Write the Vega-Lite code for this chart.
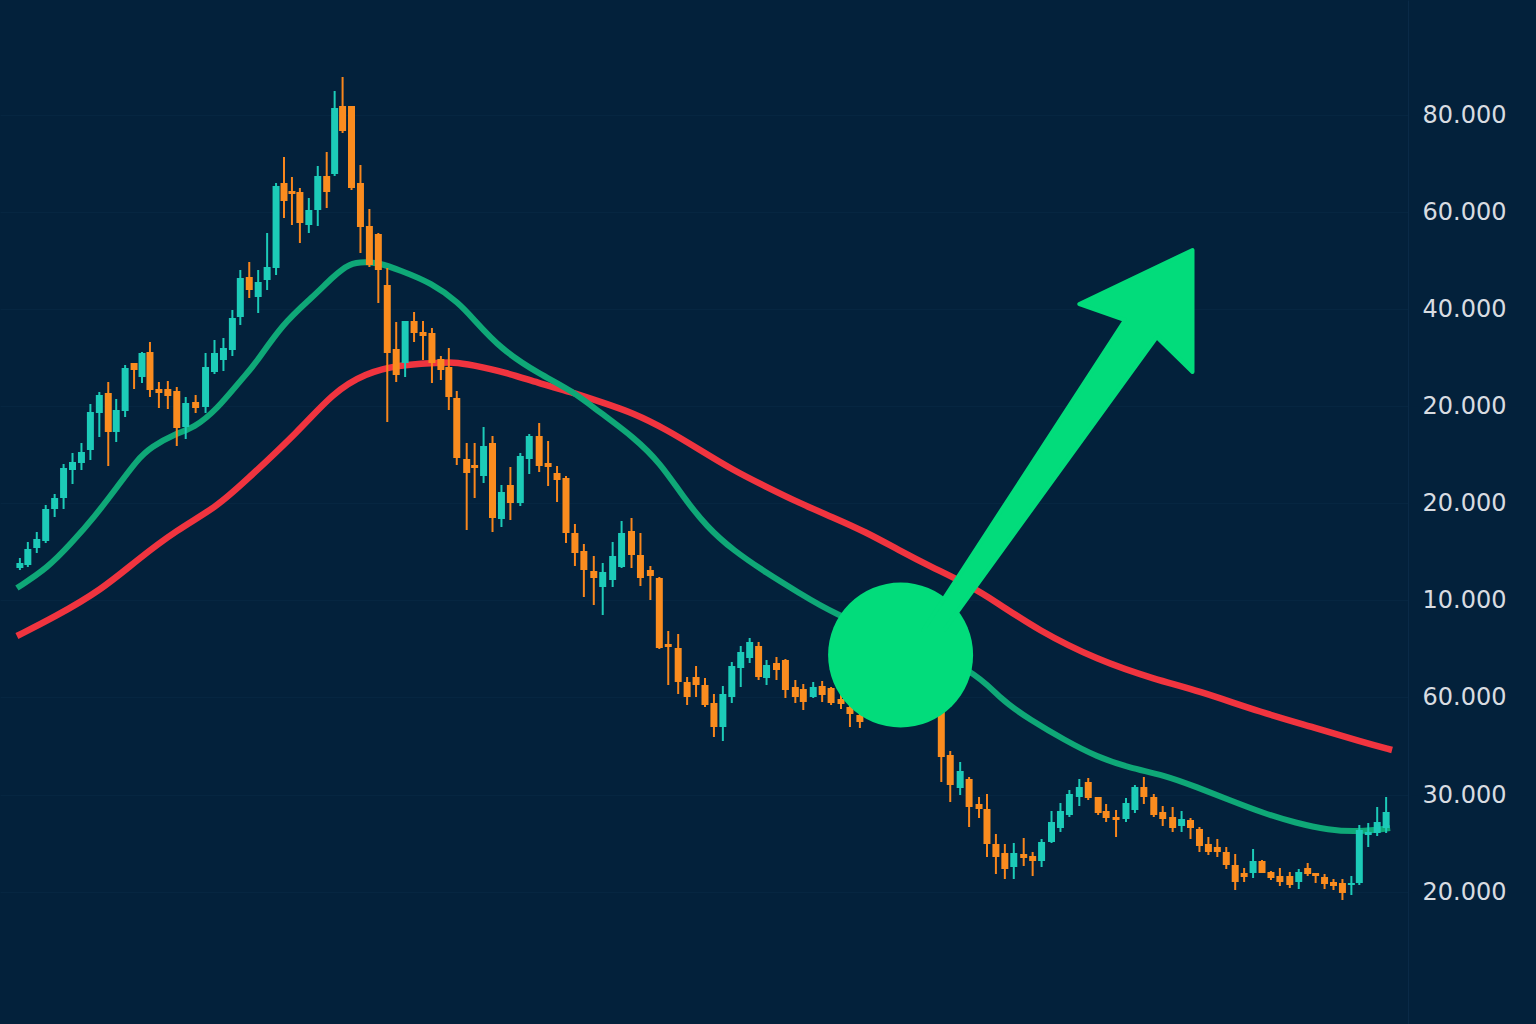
{
  "$schema": "https://vega.github.io/schema/vega-lite/v6.json",
  "width": 1408,
  "height": 1024,
  "autosize": {"type": "none"},
  "padding": {"left": 0, "top": 0, "right": 128, "bottom": 0},
  "background": "#03213b",
  "config": {
    "view": {"stroke": null},
    "axisY": {
      "orient": "right", "title": null,
      "labelFont": "DejaVu Sans", "labelFontSize": 24, "labelColor": "#d8dce1",
      "labelPadding": 14, "ticks": false,
      "domain": true, "domainColor": "#0a2a47", "domainWidth": 1,
      "grid": true, "gridColor": "#062641", "gridWidth": 1
    }
  },
  "datasets": {
    "candles": [
      {"t":15,"o":43.2,"c":43.7,"h":44.2,"l":43.0},
      {"t":23,"o":43.5,"c":45.1,"h":45.8,"l":43.3},
      {"t":32,"o":45.2,"c":46.1,"h":46.8,"l":44.7},
      {"t":41,"o":45.9,"c":49.1,"h":49.5,"l":45.7},
      {"t":50,"o":49.1,"c":50.2,"h":50.6,"l":48.3},
      {"t":59,"o":50.2,"c":53.2,"h":53.6,"l":49.1},
      {"t":68,"o":53.0,"c":53.8,"h":54.7,"l":51.6},
      {"t":77,"o":53.7,"c":54.8,"h":55.7,"l":53.0},
      {"t":86,"o":55.0,"c":58.8,"h":59.6,"l":54.0},
      {"t":95,"o":58.7,"c":60.5,"h":60.8,"l":56.3},
      {"t":104,"o":60.7,"c":56.8,"h":61.8,"l":53.4},
      {"t":112,"o":56.8,"c":59.0,"h":60.1,"l":55.8},
      {"t":121,"o":58.9,"c":63.2,"h":63.5,"l":58.3},
      {"t":130,"o":63.7,"c":63.0,"h":63.7,"l":61.1},
      {"t":138,"o":62.3,"c":64.7,"h":64.8,"l":61.7},
      {"t":146,"o":64.8,"c":61.0,"h":65.8,"l":60.3},
      {"t":155,"o":61.1,"c":60.7,"h":61.8,"l":59.2},
      {"t":164,"o":61.1,"c":60.4,"h":61.9,"l":59.1},
      {"t":173,"o":60.9,"c":57.2,"h":61.3,"l":55.4},
      {"t":182,"o":57.3,"c":59.7,"h":60.3,"l":56.1},
      {"t":192,"o":59.8,"c":59.2,"h":60.5,"l":58.7},
      {"t":202,"o":59.3,"c":63.3,"h":64.7,"l":58.7},
      {"t":211,"o":62.8,"c":64.7,"h":66.0,"l":62.6},
      {"t":220,"o":64.0,"c":65.2,"h":66.2,"l":62.9},
      {"t":229,"o":65.0,"c":68.2,"h":69.0,"l":64.4},
      {"t":237,"o":68.3,"c":72.2,"h":73.0,"l":67.5},
      {"t":246,"o":72.3,"c":71.0,"h":73.8,"l":70.2},
      {"t":255,"o":70.3,"c":71.8,"h":73.0,"l":68.7},
      {"t":264,"o":72.0,"c":73.3,"h":76.7,"l":71.0},
      {"t":273,"o":73.2,"c":81.4,"h":81.7,"l":72.5},
      {"t":281,"o":81.7,"c":79.9,"h":84.3,"l":78.2},
      {"t":289,"o":80.9,"c":80.6,"h":82.3,"l":77.5},
      {"t":297,"o":80.8,"c":77.7,"h":81.2,"l":75.7},
      {"t":306,"o":77.5,"c":79.0,"h":80.2,"l":76.7},
      {"t":315,"o":79.0,"c":82.4,"h":83.4,"l":77.4},
      {"t":324,"o":82.4,"c":80.8,"h":84.8,"l":79.2},
      {"t":332,"o":82.6,"c":89.2,"h":90.9,"l":82.4},
      {"t":340,"o":89.4,"c":86.9,"h":92.3,"l":86.7},
      {"t":349,"o":89.4,"c":81.2,"h":89.4,"l":81.0},
      {"t":358,"o":81.7,"c":77.3,"h":83.5,"l":74.7},
      {"t":367,"o":77.4,"c":73.5,"h":79.1,"l":73.3},
      {"t":376,"o":76.6,"c":73.0,"h":76.7,"l":69.7},
      {"t":385,"o":71.5,"c":64.7,"h":73.2,"l":57.8},
      {"t":394,"o":65.1,"c":62.5,"h":67.8,"l":61.8},
      {"t":403,"o":63.7,"c":67.9,"h":67.9,"l":62.3},
      {"t":412,"o":67.9,"c":66.7,"h":68.8,"l":65.8},
      {"t":421,"o":66.8,"c":66.4,"h":67.9,"l":64.0},
      {"t":430,"o":66.7,"c":63.7,"h":67.2,"l":61.7},
      {"t":439,"o":64.1,"c":63.0,"h":64.4,"l":62.0},
      {"t":447,"o":63.3,"c":60.3,"h":65.2,"l":59.0},
      {"t":455,"o":60.2,"c":54.2,"h":60.9,"l":53.5},
      {"t":465,"o":54.1,"c":52.7,"h":55.7,"l":47.0},
      {"t":473,"o":53.5,"c":53.2,"h":55.7,"l":50.2},
      {"t":482,"o":52.4,"c":55.4,"h":57.3,"l":51.7},
      {"t":491,"o":55.7,"c":48.2,"h":56.4,"l":46.8},
      {"t":500,"o":48.1,"c":50.8,"h":51.5,"l":47.3},
      {"t":509,"o":51.5,"c":49.7,"h":53.3,"l":48.0},
      {"t":519,"o":49.7,"c":54.4,"h":54.7,"l":49.4},
      {"t":528,"o":54.1,"c":56.4,"h":56.6,"l":52.6},
      {"t":538,"o":56.4,"c":53.4,"h":57.7,"l":52.8},
      {"t":547,"o":53.7,"c":53.3,"h":55.9,"l":51.4},
      {"t":556,"o":52.7,"c":52.0,"h":53.4,"l":49.8},
      {"t":565,"o":52.2,"c":46.7,"h":52.4,"l":45.7},
      {"t":574,"o":46.7,"c":44.7,"h":47.6,"l":43.4},
      {"t":583,"o":44.9,"c":43.0,"h":45.6,"l":40.3},
      {"t":593,"o":42.9,"c":42.2,"h":44.4,"l":39.5},
      {"t":602,"o":41.3,"c":42.8,"h":43.7,"l":38.5},
      {"t":612,"o":42.0,"c":44.4,"h":45.8,"l":41.3},
      {"t":621,"o":43.3,"c":46.7,"h":47.9,"l":43.2},
      {"t":631,"o":46.9,"c":44.5,"h":48.2,"l":43.2},
      {"t":640,"o":44.5,"c":42.2,"h":46.7,"l":41.4},
      {"t":650,"o":43.0,"c":42.4,"h":43.4,"l":40.0},
      {"t":659,"o":42.2,"c":35.2,"h":42.3,"l":35.1},
      {"t":668,"o":35.6,"c":35.3,"h":36.9,"l":31.5},
      {"t":678,"o":35.2,"c":31.8,"h":36.6,"l":30.6},
      {"t":687,"o":31.8,"c":30.3,"h":32.3,"l":29.5},
      {"t":696,"o":32.3,"c":31.5,"h":33.4,"l":30.3},
      {"t":705,"o":31.5,"c":29.5,"h":32.2,"l":29.3},
      {"t":714,"o":29.7,"c":27.3,"h":30.6,"l":26.3},
      {"t":723,"o":27.3,"c":30.6,"h":31.4,"l":25.9},
      {"t":732,"o":30.3,"c":33.4,"h":33.8,"l":29.7},
      {"t":741,"o":33.2,"c":34.8,"h":35.4,"l":31.3},
      {"t":750,"o":34.2,"c":35.8,"h":36.2,"l":33.7},
      {"t":759,"o":35.4,"c":32.3,"h":35.8,"l":32.0},
      {"t":767,"o":32.2,"c":33.5,"h":34.0,"l":31.5},
      {"t":777,"o":33.7,"c":33.0,"h":34.3,"l":32.0},
      {"t":786,"o":34.0,"c":31.0,"h":34.1,"l":30.2},
      {"t":796,"o":31.3,"c":30.3,"h":32.0,"l":29.7},
      {"t":804,"o":31.1,"c":29.8,"h":31.6,"l":29.0},
      {"t":814,"o":30.3,"c":31.3,"h":31.8,"l":30.2},
      {"t":823,"o":31.4,"c":30.5,"h":31.9,"l":29.8},
      {"t":832,"o":31.2,"c":29.7,"h":31.3,"l":29.5},
      {"t":842,"o":30.1,"c":29.6,"h":31.3,"l":29.1},
      {"t":851,"o":29.3,"c":28.6,"h":29.8,"l":27.3},
      {"t":861,"o":28.5,"c":27.8,"h":30.0,"l":27.2},
      {"t":869,"o":29.8,"c":29.0,"h":30.3,"l":28.6},
      {"t":878,"o":29.0,"c":30.0,"h":30.5,"l":28.8},
      {"t":887,"o":30.0,"c":29.2,"h":30.4,"l":28.8},
      {"t":896,"o":29.2,"c":28.4,"h":29.7,"l":28.0},
      {"t":905,"o":28.4,"c":29.3,"h":29.8,"l":28.1},
      {"t":914,"o":29.3,"c":28.6,"h":29.9,"l":28.3},
      {"t":923,"o":30.0,"c":29.0,"h":30.5,"l":28.6},
      {"t":932,"o":30.5,"c":29.5,"h":31.0,"l":29.0},
      {"t":943,"o":29.5,"c":24.3,"h":30.0,"l":21.8},
      {"t":952,"o":24.5,"c":21.5,"h":24.9,"l":19.8},
      {"t":962,"o":21.2,"c":22.9,"h":23.8,"l":20.5},
      {"t":971,"o":22.1,"c":19.3,"h":22.3,"l":17.3},
      {"t":981,"o":19.6,"c":19.1,"h":20.3,"l":18.2},
      {"t":989,"o":19.1,"c":15.6,"h":20.6,"l":14.3},
      {"t":998,"o":15.6,"c":14.3,"h":16.6,"l":12.6},
      {"t":1007,"o":14.7,"c":13.1,"h":15.6,"l":12.1},
      {"t":1016,"o":13.3,"c":14.7,"h":15.7,"l":12.1},
      {"t":1026,"o":14.6,"c":14.2,"h":16.2,"l":13.4},
      {"t":1035,"o":14.4,"c":13.9,"h":14.8,"l":12.4},
      {"t":1044,"o":13.9,"c":15.8,"h":16.1,"l":13.3},
      {"t":1054,"o":15.8,"c":17.8,"h":18.9,"l":15.7},
      {"t":1063,"o":17.2,"c":18.9,"h":19.7,"l":16.8},
      {"t":1072,"o":18.5,"c":20.6,"h":21.0,"l":18.3},
      {"t":1082,"o":20.3,"c":21.3,"h":22.1,"l":19.4},
      {"t":1091,"o":21.8,"c":20.2,"h":22.2,"l":20.0},
      {"t":1101,"o":20.3,"c":18.7,"h":20.3,"l":18.5},
      {"t":1109,"o":18.9,"c":18.2,"h":19.6,"l":17.8},
      {"t":1119,"o":18.3,"c":18.0,"h":19.0,"l":16.3},
      {"t":1129,"o":18.1,"c":19.7,"h":20.2,"l":17.8},
      {"t":1138,"o":19.0,"c":21.3,"h":21.5,"l":18.7},
      {"t":1147,"o":21.3,"c":20.3,"h":22.3,"l":19.6},
      {"t":1157,"o":20.3,"c":18.5,"h":20.6,"l":18.3},
      {"t":1166,"o":18.8,"c":18.1,"h":19.4,"l":17.4},
      {"t":1176,"o":18.3,"c":17.2,"h":19.3,"l":16.8},
      {"t":1185,"o":17.4,"c":18.1,"h":18.9,"l":16.8},
      {"t":1194,"o":18.0,"c":17.2,"h":18.2,"l":16.1},
      {"t":1203,"o":17.1,"c":15.4,"h":17.3,"l":14.8},
      {"t":1212,"o":15.6,"c":14.8,"h":16.3,"l":14.5},
      {"t":1221,"o":15.3,"c":14.8,"h":16.1,"l":14.3},
      {"t":1230,"o":14.8,"c":13.5,"h":15.3,"l":13.1},
      {"t":1239,"o":13.5,"c":11.8,"h":14.6,"l":11.0},
      {"t":1248,"o":12.7,"c":12.3,"h":13.2,"l":11.8},
      {"t":1257,"o":12.7,"c":13.9,"h":15.1,"l":12.2},
      {"t":1266,"o":13.9,"c":12.7,"h":14.0,"l":12.7},
      {"t":1275,"o":12.8,"c":12.2,"h":12.9,"l":12.0},
      {"t":1284,"o":12.4,"c":11.8,"h":13.2,"l":11.4},
      {"t":1294,"o":12.4,"c":11.5,"h":12.8,"l":11.2},
      {"t":1303,"o":11.8,"c":12.8,"h":13.1,"l":11.1},
      {"t":1312,"o":13.2,"c":12.6,"h":13.7,"l":12.4},
      {"t":1320,"o":12.7,"c":12.4,"h":12.7,"l":11.7},
      {"t":1329,"o":12.3,"c":11.6,"h":12.6,"l":11.1},
      {"t":1338,"o":11.8,"c":11.4,"h":12.1,"l":11.0},
      {"t":1347,"o":11.7,"c":10.7,"h":12.1,"l":10.0},
      {"t":1356,"o":11.5,"c":11.7,"h":12.4,"l":10.5},
      {"t":1364,"o":11.7,"c":17.0,"h":17.5,"l":11.5},
      {"t":1373,"o":16.5,"c":16.8,"h":17.7,"l":15.3},
      {"t":1382,"o":16.7,"c":17.8,"h":19.3,"l":16.4},
      {"t":1391,"o":17.2,"c":18.8,"h":20.3,"l":16.7}
    ],
    "fast": [
      {"t":12,"v":41.2},{"t":43,"v":43.2},{"t":67,"v":45.7},{"t":90,"v":48.3},
      {"t":113,"v":51.3},{"t":133,"v":54.0},{"t":147,"v":55.3},{"t":173,"v":56.7},
      {"t":190,"v":57.2},{"t":213,"v":59.0},{"t":240,"v":62.3},{"t":250,"v":63.3},
      {"t":280,"v":67.7},{"t":310,"v":70.3},{"t":330,"v":72.3},{"t":347,"v":73.7},
      {"t":363,"v":73.8},{"t":377,"v":73.7},{"t":397,"v":73.0},{"t":430,"v":71.7},
      {"t":457,"v":69.7},{"t":470,"v":68.3},{"t":500,"v":65.0},{"t":540,"v":62.5},
      {"t":570,"v":61.0},{"t":600,"v":58.7},{"t":633,"v":56.3},{"t":660,"v":53.7},
      {"t":683,"v":50.3},{"t":707,"v":47.3},{"t":733,"v":45.0},{"t":767,"v":42.7},
      {"t":800,"v":40.7},{"t":833,"v":38.7},{"t":900,"v":36.0},{"t":977,"v":33.0},
      {"t":1003,"v":30.0},{"t":1033,"v":28.0},{"t":1067,"v":26.0},{"t":1100,"v":24.3},
      {"t":1133,"v":23.2},{"t":1167,"v":22.5},{"t":1200,"v":21.3},{"t":1233,"v":20.0},
      {"t":1267,"v":18.7},{"t":1300,"v":17.7},{"t":1333,"v":17.0},{"t":1363,"v":16.8},
      {"t":1395,"v":17.2}
    ],
    "slow": [
      {"t":12,"v":36.4},{"t":50,"v":38.3},{"t":97,"v":41.0},{"t":133,"v":44.0},
      {"t":173,"v":47.0},{"t":213,"v":49.3},{"t":240,"v":51.7},{"t":297,"v":57.0},
      {"t":330,"v":60.7},{"t":363,"v":62.7},{"t":397,"v":63.5},{"t":430,"v":63.7},
      {"t":453,"v":63.8},{"t":470,"v":63.5},{"t":503,"v":62.8},{"t":537,"v":61.7},
      {"t":570,"v":60.8},{"t":600,"v":59.8},{"t":633,"v":58.7},{"t":667,"v":57.0},
      {"t":700,"v":55.0},{"t":733,"v":53.0},{"t":767,"v":51.3},{"t":800,"v":49.7},
      {"t":833,"v":48.3},{"t":867,"v":46.8},{"t":900,"v":45.0},{"t":933,"v":43.3},
      {"t":967,"v":41.7},{"t":1000,"v":39.7},{"t":1040,"v":37.0},{"t":1100,"v":34.0},
      {"t":1160,"v":32.0},{"t":1200,"v":31.0},{"t":1267,"v":28.7},{"t":1317,"v":27.3},
      {"t":1367,"v":25.8},{"t":1397,"v":25.0}
    ],
    "marker": [{"t":902,"v":34.5}],
    "arrow": [
      {"k":1,"t":925,"v":37.0},
      {"k":2,"t":1128,"v":68.0},
      {"k":3,"t":1082,"v":69.6},
      {"k":4,"t":1196,"v":75.0},
      {"k":5,"t":1196,"v":62.8},
      {"k":6,"t":1160,"v":66.3},
      {"k":7,"t":946,"v":37.0}
    ]
  },
  "layer": [
    {
      "data": {"name": "slow"},
      "mark": {"type": "line", "interpolate": "basis", "color": "#f0343f", "strokeWidth": 6.5, "strokeCap": "butt"},
      "encoding": {
        "x": {"field": "t", "type": "quantitative", "scale": {"domain": [0, 1408], "nice": false, "zero": false}, "axis": null},
        "y": {
          "field": "v", "type": "quantitative",
          "scale": {"domain": [-2.4, 100], "nice": false, "zero": false},
          "axis": {
            "orient": "right", "title": null,
            "values": [88.5, 78.8, 69.1, 59.4, 49.7, 40.0, 30.3, 20.5, 10.8],
            "labelExpr": "datum.value > 85 ? '80.000' : datum.value > 75 ? '60.000' : datum.value > 65 ? '40.000' : datum.value > 55 ? '20.000' : datum.value > 45 ? '20.000' : datum.value > 35 ? '10.000' : datum.value > 25 ? '60.000' : datum.value > 15 ? '30.000' : '20.000'"
          }
        }
      }
    },
    {
      "data": {"name": "fast"},
      "mark": {"type": "line", "interpolate": "basis", "color": "#0fa877", "strokeWidth": 6, "strokeCap": "butt"},
      "encoding": {
        "x": {"field": "t", "type": "quantitative", "axis": null},
        "y": {
          "field": "v", "type": "quantitative",
          "axis": {
            "orient": "right", "title": null,
            "values": [88.5, 78.8, 69.1, 59.4, 49.7, 40.0, 30.3, 20.5, 10.8],
            "labelExpr": "datum.value > 85 ? '80.000' : datum.value > 75 ? '60.000' : datum.value > 65 ? '40.000' : datum.value > 55 ? '20.000' : datum.value > 45 ? '20.000' : datum.value > 35 ? '10.000' : datum.value > 25 ? '60.000' : datum.value > 15 ? '30.000' : '20.000'"
          }
        }
      }
    },
    {
      "data": {"name": "candles"},
      "mark": {"type": "rule", "strokeWidth": 2},
      "encoding": {
        "x": {"field": "t", "type": "quantitative", "axis": null},
        "y": {
          "field": "l", "type": "quantitative",
          "axis": {
            "orient": "right", "title": null,
            "values": [88.5, 78.8, 69.1, 59.4, 49.7, 40.0, 30.3, 20.5, 10.8],
            "labelExpr": "datum.value > 85 ? '80.000' : datum.value > 75 ? '60.000' : datum.value > 65 ? '40.000' : datum.value > 55 ? '20.000' : datum.value > 45 ? '20.000' : datum.value > 35 ? '10.000' : datum.value > 25 ? '60.000' : datum.value > 15 ? '30.000' : '20.000'"
          }
        },
        "y2": {"field": "h"},
        "color": {"condition": {"test": "datum.c >= datum.o", "value": "#1ccbb8"}, "value": "#f9861c"}
      }
    },
    {
      "data": {"name": "candles"},
      "mark": {"type": "bar", "width": 7},
      "encoding": {
        "x": {"field": "t", "type": "quantitative", "axis": null},
        "y": {
          "field": "o", "type": "quantitative",
          "axis": {
            "orient": "right", "title": null,
            "values": [88.5, 78.8, 69.1, 59.4, 49.7, 40.0, 30.3, 20.5, 10.8],
            "labelExpr": "datum.value > 85 ? '80.000' : datum.value > 75 ? '60.000' : datum.value > 65 ? '40.000' : datum.value > 55 ? '20.000' : datum.value > 45 ? '20.000' : datum.value > 35 ? '10.000' : datum.value > 25 ? '60.000' : datum.value > 15 ? '30.000' : '20.000'"
          }
        },
        "y2": {"field": "c"},
        "color": {"condition": {"test": "datum.c >= datum.o", "value": "#1ccbb8"}, "value": "#fa8c1f"}
      }
    },
    {
      "data": {"name": "marker"},
      "mark": {"type": "point", "shape": "circle", "filled": true, "size": 21025, "opacity": 1, "color": "#02dc7b", "strokeWidth": 0},
      "encoding": {
        "x": {"field": "t", "type": "quantitative", "axis": null},
        "y": {
          "field": "v", "type": "quantitative",
          "axis": {
            "orient": "right", "title": null,
            "values": [88.5, 78.8, 69.1, 59.4, 49.7, 40.0, 30.3, 20.5, 10.8],
            "labelExpr": "datum.value > 85 ? '80.000' : datum.value > 75 ? '60.000' : datum.value > 65 ? '40.000' : datum.value > 55 ? '20.000' : datum.value > 45 ? '20.000' : datum.value > 35 ? '10.000' : datum.value > 25 ? '60.000' : datum.value > 15 ? '30.000' : '20.000'"
          }
        }
      }
    },
    {
      "data": {"name": "arrow"},
      "mark": {"type": "line", "interpolate": "linear-closed", "fill": "#02dc7b", "stroke": "#02dc7b", "strokeWidth": 4, "strokeJoin": "round"},
      "encoding": {
        "x": {"field": "t", "type": "quantitative", "axis": null},
        "y": {
          "field": "v", "type": "quantitative",
          "axis": {
            "orient": "right", "title": null,
            "values": [88.5, 78.8, 69.1, 59.4, 49.7, 40.0, 30.3, 20.5, 10.8],
            "labelExpr": "datum.value > 85 ? '80.000' : datum.value > 75 ? '60.000' : datum.value > 65 ? '40.000' : datum.value > 55 ? '20.000' : datum.value > 45 ? '20.000' : datum.value > 35 ? '10.000' : datum.value > 25 ? '60.000' : datum.value > 15 ? '30.000' : '20.000'"
          }
        },
        "order": {"field": "k", "type": "quantitative"}
      }
    }
  ]
}
